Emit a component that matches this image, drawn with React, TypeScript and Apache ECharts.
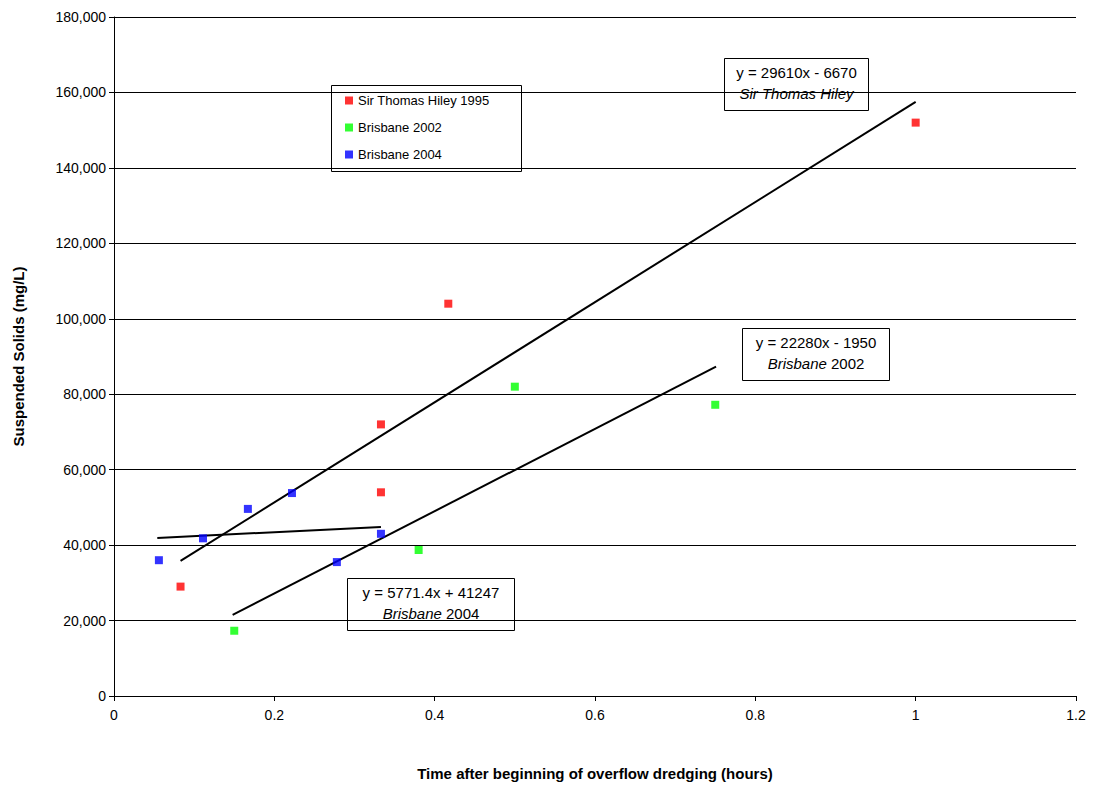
import React, { useEffect, useRef } from "react";
import * as echarts from "echarts";

const hileyPts = [[0.083, 29000], [0.333, 72000], [0.333, 54000], [0.417, 104000], [1.0, 152000]];
const bris2002Pts = [[0.15, 17300], [0.38, 38700], [0.5, 82000], [0.75, 77200]];
const bris2004Pts = [[0.056, 36000], [0.111, 41800], [0.167, 49600], [0.222, 53800], [0.278, 35500], [0.333, 43000]];
const hileyTrend = [[0.083, 35800], [1.0, 157500]];
const bris2002Trend = [[0.148, 21500], [0.751, 87300]];
const bris2004Trend = [[0.054, 41900], [0.333, 44800]];

const FONT = "Liberation Sans, Arial, sans-serif";

export default function App() {
  const ref = useRef<HTMLDivElement>(null);
  useEffect(() => {
    const chart = echarts.init(ref.current!, null, { renderer: "svg" });
    const sq = (name: string, color: string, data: number[][]) => ({
      name, type: "scatter", data, symbol: "rect", symbolSize: 8,
      itemStyle: { color }, z: 5,
    });
    const ln = (data: number[][]) => ({
      type: "line", data, symbol: "none", lineStyle: { color: "#000", width: 2 }, z: 4,
    });
    const box = (x: number, y: number, w: number, h: number, l1: string, l2: string) => ({
      type: "group", left: x, top: y, children: [
        { type: "rect", shape: { x: 0, y: 0, width: w, height: h }, style: { fill: "#fff", stroke: "#000", lineWidth: 1 } },
        { type: "text", x: w / 2, y: 6, style: { text: l1, font: `15px ${FONT}`, fill: "#000", textAlign: "center" } },
        { type: "text", x: w / 2, y: 27, style: {
          text: l2, font: `15px ${FONT}`, fill: "#000", textAlign: "center",
          rich: { i: { fontStyle: "italic", fontSize: 15, fontFamily: FONT, fill: "#000" }, n: { fontSize: 15, fontFamily: FONT, fill: "#000" } },
        } },
      ],
    });
    chart.setOption({
      animation: false,
      backgroundColor: "#fff",
      textStyle: { fontFamily: FONT },
      grid: { left: 114, right: 17, top: 17, bottom: 91 },
      xAxis: {
        type: "value", min: 0, max: 1.2, interval: 0.2,
        name: "Time after beginning of overflow dredging (hours)",
        nameLocation: "middle", nameGap: 70,
        nameTextStyle: { fontWeight: "bold", fontSize: 15, color: "#000" },
        axisLine: { lineStyle: { color: "#000" } },
        axisTick: { show: true, inside: false, lineStyle: { color: "#000" } },
        axisLabel: { color: "#000", fontSize: 14, margin: 12 },
        splitLine: { show: false },
      },
      yAxis: {
        type: "value", min: 0, max: 180000, interval: 20000,
        name: "Suspended Solids (mg/L)", nameLocation: "middle", nameGap: 88,
        nameTextStyle: { fontWeight: "bold", fontSize: 15, color: "#000" },
        axisLine: { show: true, lineStyle: { color: "#000" } },
        axisTick: { show: true, lineStyle: { color: "#000" } },
        axisLabel: { color: "#000", fontSize: 14, formatter: (v: number) => v.toLocaleString("en-US") },
        splitLine: { lineStyle: { color: "#000", width: 1 } },
      },
      legend: {
        left: 340, top: 89, orient: "vertical", itemGap: 14,
        itemWidth: 8, itemHeight: 8,
        data: ["Sir Thomas Hiley 1995", "Brisbane 2002", "Brisbane 2004"],
        textStyle: { fontSize: 13, color: "#000" },
      },
      graphic: [
        { type: "rect", left: 331, top: 85, shape: { width: 190, height: 86 }, style: { fill: "#fff", stroke: "#000", lineWidth: 1 }, z: 0 },
        box(724, 58, 144, 52, "y = 29610x - 6670", "{i|Sir Thomas Hiley}"),
        box(742, 328, 147, 52, "y = 22280x - 1950", "{i|Brisbane} {n|2002}"),
        box(347, 578, 167, 52, "y = 5771.4x + 41247", "{i|Brisbane} {n|2004}"),
      ],
      series: [
        ln(hileyTrend), ln(bris2002Trend), ln(bris2004Trend),
        sq("Sir Thomas Hiley 1995", "#ff0000", hileyPts),
        sq("Brisbane 2002", "#00ff00", bris2002Pts),
        sq("Brisbane 2004", "#0000ff", bris2004Pts),
      ],
    });
    return () => chart.dispose();
  }, []);
  return <div ref={ref} style={{ position: "absolute", left: 0, top: 0, width: 1093, height: 787 }} />;
}
